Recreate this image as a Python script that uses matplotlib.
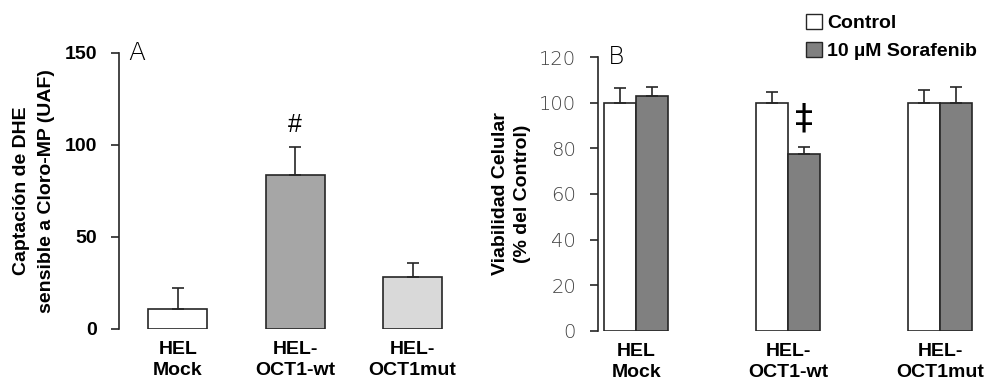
import numpy as np
import matplotlib
matplotlib.use("Agg")
import matplotlib.pyplot as plt
from matplotlib.patches import Patch

plt.rcParams['font.family'] = ['Liberation Sans', 'DejaVu Sans']

# Panel A: captacion de DHE
cells = ["HEL\nMock", "HEL-\nOCT1-wt", "HEL-\nOCT1mut"]
uptake = [10.8, 83.7, 28.3]
uptake_err = [11.5, 15.2, 7.6]
uptake_colors = ["#ffffff", "#a6a6a6", "#d9d9d9"]

# Panel B: viabilidad celular
control = [100, 100, 100]
control_err = [6.4, 4.7, 5.6]
sorafenib = [102.9, 77.5, 99.8]
sorafenib_err = [4.0, 3.1, 7.2]

edge = "#262626"
fs = 14

fig = plt.figure(figsize=(9.84, 3.83), dpi=100)

# ---- A ----
axA = fig.add_axes([0.121, 0.141, 0.358, 0.721])
x = np.arange(len(cells))
axA.bar(x, uptake, width=0.5, color=uptake_colors, edgecolor=edge, linewidth=1.2,
        yerr=[np.zeros(3), uptake_err], capsize=4,
        error_kw=dict(ecolor=edge, elinewidth=1.2, capthick=1.2), zorder=2)
axA.set_xlim(-0.5, 2.5)
axA.set_ylim(0, 150)
axA.set_yticks([0, 50, 100, 150])
axA.set_xticks(x)
axA.set_xticklabels(cells, fontsize=fs, fontweight='bold', linespacing=1.25)
for lab in axA.get_yticklabels():
    lab.set_fontweight('bold')
    lab.set_fontsize(fs)
axA.tick_params(axis='x', length=0, pad=9)
axA.tick_params(axis='y', direction='out', length=6, width=1.2, color=edge, pad=10)
for s in ['top', 'right', 'bottom']:
    axA.spines[s].set_visible(False)
axA.spines['left'].set_linewidth(1.2)
axA.spines['left'].set_color(edge)
axA.set_ylabel("Captación de DHE\nsensible a Cloro-MP (UAF)", fontsize=fs,
               fontweight='bold', labelpad=7, linespacing=1.55)
axA.text(1, 111, "#", ha='center', va='center', fontsize=18)
axA.text(0.025, 1.0, "A", transform=axA.transAxes, fontsize=18,
         fontfamily='DejaVu Sans', fontweight='light', va='center', ha='left')

# ---- B ----
axB = fig.add_axes([0.608, 0.136, 0.386, 0.715])
w = 0.21
axB.bar(x - w / 2, control, width=w, color="#ffffff", edgecolor=edge, linewidth=1.2,
        yerr=[np.zeros(3), control_err], capsize=4,
        error_kw=dict(ecolor=edge, elinewidth=1.2, capthick=1.2), label="Control", zorder=2)
axB.bar(x + w / 2, sorafenib, width=w, color="#808080", edgecolor=edge, linewidth=1.2,
        yerr=[np.zeros(3), sorafenib_err], capsize=4,
        error_kw=dict(ecolor=edge, elinewidth=1.2, capthick=1.2),
        label="10 µM Sorafenib", zorder=2)
axB.set_xlim(-0.25, 2.25)
axB.set_ylim(0, 120)
axB.set_yticks(np.arange(0, 121, 20))
axB.set_xticks(x)
axB.set_xticklabels(cells, fontsize=fs, fontweight='bold', linespacing=1.25)
for lab in axB.get_yticklabels():
    lab.set_fontsize(fs)
    lab.set_fontfamily('DejaVu Sans')
    lab.set_fontweight('light')
    lab.set_color('#404040')
axB.tick_params(axis='x', length=0, pad=9)
axB.tick_params(axis='y', direction='out', length=6, width=1.2, color=edge, pad=10)
for s in ['top', 'right', 'bottom']:
    axB.spines[s].set_visible(False)
axB.spines['left'].set_linewidth(1.2)
axB.spines['left'].set_color(edge)
axB.set_ylabel("Viabilidad Celular\n(% del Control)", fontsize=fs,
               fontweight='bold', labelpad=6, linespacing=1.35)
axB.text(1 + w / 2, 93, "‡", ha='center', va='center', fontsize=26,
         fontfamily='DejaVu Sans')
axB.text(0.025, 1.0, "B", transform=axB.transAxes, fontsize=18,
         fontfamily='DejaVu Sans', fontweight='light', va='center', ha='left')

handles = [Patch(facecolor="#ffffff", edgecolor=edge, linewidth=1.0),
           Patch(facecolor="#808080", edgecolor=edge, linewidth=1.0)]
leg = fig.legend(handles, ["Control", "10 µM Sorafenib"], loc='upper left',
                 bbox_to_anchor=(806 / 984, 1 - 14 / 383), frameon=False,
                 handlelength=0.8, handleheight=0.8, handletextpad=0.3,
                 labelspacing=0.5, borderpad=0, borderaxespad=0,
                 prop=dict(size=fs, weight='bold'))

fig.savefig("out.png", dpi=100)
